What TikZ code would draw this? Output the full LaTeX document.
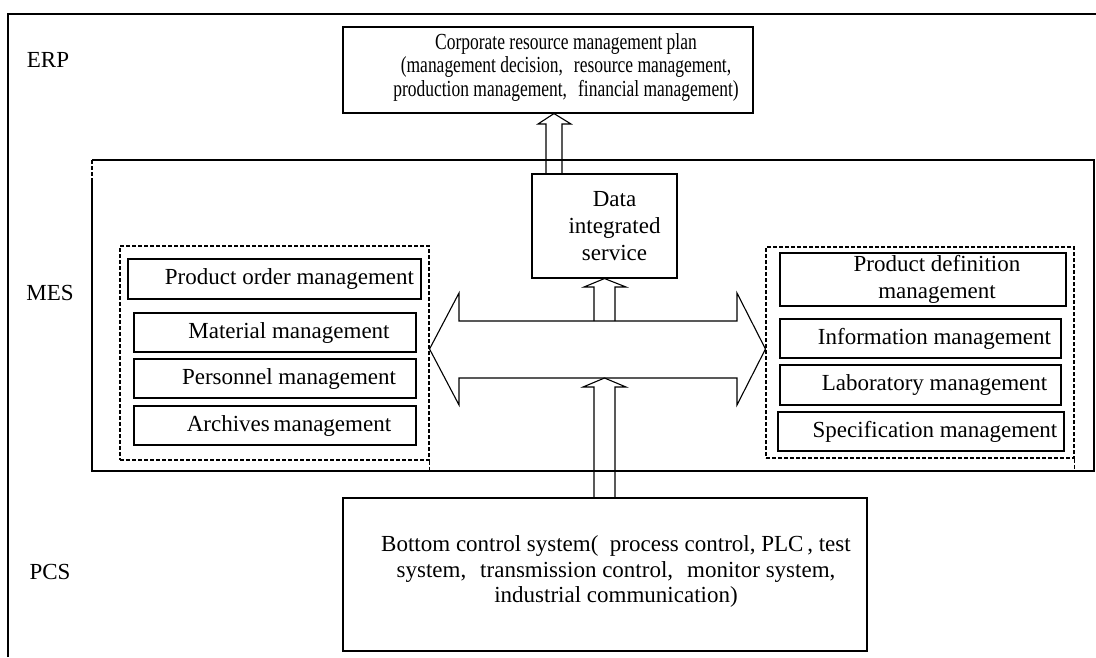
\documentclass[tikz,border=0pt]{standalone}
\usepackage{fontspec}
\setmainfont{Liberation Serif}
\newfontfamily\narrowfont[FakeStretch=0.76]{Liberation Serif}
\begin{document}
\begin{tikzpicture}[x=1pt, y=-1pt, line width=1.1pt,
  font=\fontsize{23}{27}\selectfont,
  box/.style={draw, inner sep=0pt},
  grp/.style={draw, dash pattern=on 4pt off 2pt, inner sep=0pt},
  grpline/.style={dash pattern=on 4pt off 2pt},
  txt/.style={align=center, inner sep=0pt},
  blk/.style={draw, line join=miter}]
\useasboundingbox (0,0) rectangle (1096,657);
% outer frame and level names
\draw (8,657) -- (8,14) -- (1096,14);
\node (lerp) at (48,60) {ERP};
\node (lmes) at (50,293) {MES};
\node (lpcs) at (50,572) {PCS};
% ERP layer
\node[box, minimum width=410, minimum height=86,
  label={[txt, xshift=18, yshift=3, font=\narrowfont\fontsize{23}{23.5}\selectfont]center:{Corporate resource management plan\\(management decision,\hspace{11pt}resource management,\\production management,\hspace{11pt}financial management)}}] (erp) at (548,70) {};
% MES layer
\coordinate (mesnw) at (92,160);
\coordinate (messe) at (1094,471);
\draw (92,180) -- (mesnw |- messe) -- (messe) -- (messe |- mesnw) -- (mesnw);
\draw[grpline] (mesnw) -- (92,180);
\node[box, minimum width=145, minimum height=104,
  label={[txt, xshift=10]center:{Data\\integrated\\service}}] (dis) at (604.5,226) {};
% left group
\node[grp, minimum width=309, minimum height=214] (lgrp) at (274.5,353) {};
\draw[grpline] (lgrp.south east) -- (lgrp.south east |- messe);
\node[box, minimum width=293, minimum height=40,
  label={[txt, xshift=15]center:Product order management}] (pom) at (274.5,279) {};
\node[box, minimum width=282, minimum height=39,
  label={[txt, xshift=14]center:Material management}] (mat) at (275,332.5) {};
\node[box, minimum width=282, minimum height=39,
  label={[txt, xshift=14]center:Personnel management}] (per) at (275,378.5) {};
\node[box, minimum width=282, minimum height=39,
  label={[txt, xshift=14]center:Archives\,management}] (arc) at (275,425.5) {};
% right group
\node[grp, minimum width=308, minimum height=211] (rgrp) at (920,352.5) {};
\draw[grpline] (rgrp.south east) -- (rgrp.south east |- messe);
\node[box, minimum width=286, minimum height=53,
  label={[txt, xshift=14]center:{Product definition\\management}}] (pdm) at (923,279.5) {};
\node[box, minimum width=281, minimum height=39,
  label={[txt, xshift=14]center:Information management}] (inf) at (920.5,338.5) {};
\node[box, minimum width=281, minimum height=40,
  label={[txt, xshift=14]center:Laboratory management}] (lab) at (920.5,385) {};
\node[box, minimum width=286, minimum height=39,
  label={[txt, xshift=14]center:Specification management}] (spe) at (921,431.5) {};
% PCS layer
\node[box, minimum width=524, minimum height=153,
  label={[txt, xshift=11, yshift=3, font=\fontsize{23}{25.5}\selectfont]center:{Bottom control system(\ \ process control, PLC\,,\ test\\system,\hspace{14pt}transmission control,\hspace{14pt}monitor system,\\industrial communication)}}] (pcs) at (605,574.5) {};
% block arrows
\coordinate (bus) at (604.5,378);
\draw[blk] (lgrp.east |- 0,349) -- (459,293) -- (459,321) -- (737,321) -- (737,293)
  -- (rgrp.west |- 0,349) -- (737,405) -- (737,378) -- (459,378) -- (459,405) -- cycle;
\draw[blk] (594,321) -- (594,287) -- (584,287) -- (dis.south) -- (626,287) -- (615,287) -- (615,321);
\draw[blk] (594,0 |- pcs.north) -- (594,387) -- (583,387) -- (bus) -- (626,387) -- (615,387) -- (615,0 |- pcs.north);
\draw[blk] (546,0 |- dis.north) -- (546,124) -- (538,124) -- (554,0 |- erp.south) -- (571,124) -- (562,124) -- (562,0 |- dis.north);
\end{tikzpicture}
\end{document}
